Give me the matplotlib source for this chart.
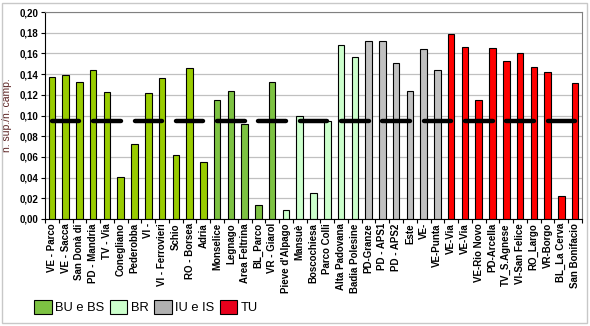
import matplotlib
matplotlib.use('Agg')
import matplotlib.pyplot as plt
from matplotlib.patches import Patch, Rectangle
import numpy as np

plt.rcParams['font.family'] = ['Liberation Sans', 'DejaVu Sans']

stazioni = ['VE - Parco', 'VE - Sacca', 'San Donà di', 'PD - Mandria', 'TV - Via',
            'Conegliano', 'Pederobba', 'VI -', 'VI - Ferrovieri', 'Schio',
            'RO - Borsea', 'Adria', 'Monselice', 'Legnago', 'Area Feltrina',
            'BL_Parco', 'VR - Giarol', "Pieve d'Alpago", 'Mansuè', 'Boscochiesa',
            'Parco Colli', 'Alta Padovana', 'Badia Polesine', 'PD-Granze', 'PD - APS1',
            'PD - APS2', 'Este', 'VE-', 'VE-Punta', 'VE-Via',
            'VE-Via', 'VE-Rio Novo', 'PD-Arcella', 'TV_S.Agnese', 'VI-San Felice',
            'RO_Largo', 'VR-Borgo', 'BL_La Cerva', 'San Bonifacio']
valori = [0.137, 0.139, 0.132, 0.144, 0.123, 0.041, 0.072, 0.122, 0.136, 0.062,
          0.146, 0.055, 0.115, 0.124, 0.092, 0.014, 0.132, 0.009, 0.100, 0.025,
          0.095, 0.168, 0.157, 0.172, 0.172, 0.151, 0.124, 0.164, 0.144, 0.179,
          0.166, 0.115, 0.165, 0.153, 0.160, 0.147, 0.142, 0.022, 0.131]
tipo = ['BU_g'] * 12 + ['BU'] * 5 + ['BR'] * 6 + ['IU'] * 6 + ['TU'] * 10
soglia = 0.095

colori = {'BU_g': '#99CC00', 'BU': '#7DC242', 'BR': '#CCFFCC', 'IU': '#C0C0C0', 'TU': '#FF0000'}
legenda = [('BU e BS', '#7DC242'), ('BR', '#CCFFCC'), ('IU e IS', '#B0B0B0'), ('TU', '#E8001C')]

fig = plt.figure(figsize=(5.9, 3.26), dpi=100)
ax = fig.add_axes([45/590, 1 - 219/326, (582-45)/590, (219-12)/326])

x = np.arange(len(stazioni))
ax.bar(x, valori, width=0.47, color=[colori[t] for t in tipo], edgecolor='black', linewidth=0.8, zorder=2)

# linea di riferimento, a gruppi di tre stazioni
for i in range(0, len(stazioni), 3):
    ax.plot(x[i:i+3], [soglia] * len(x[i:i+3]), color='black', linewidth=3.2,
            solid_capstyle='round', zorder=3)

ax.set_xlim(-0.5, len(stazioni) - 0.5)
ax.set_ylim(0, 0.20)
ax.set_yticks(np.arange(0, 0.201, 0.02))
ax.set_yticklabels([('%.2f' % v).replace('.', ',') for v in np.arange(0, 0.201, 0.02)],
                   fontsize=7, fontweight='bold')
ax.yaxis.grid(True, color='#C0C0C0', linewidth=0.9, zorder=0)
ax.set_axisbelow(True)

ax.set_xticks(x)
ax.set_xticklabels(stazioni, rotation=90, fontsize=7, fontweight='bold')
ax.set_xticks(np.arange(-0.5, len(stazioni), 1), minor=True)
ax.tick_params(axis='x', which='major', length=0, pad=3)
ax.tick_params(axis='x', which='minor', length=3, direction='out', width=0.8)
ax.tick_params(axis='y', length=3, direction='out', width=0.8, pad=2)

ax.set_ylabel('n. sup./n. camp.', fontsize=7.5, color='#5A2020', labelpad=5)

for s in ['top', 'right']:
    ax.spines[s].set_color('#808080')
for s in ['left', 'bottom']:
    ax.spines[s].set_color('black')

handles = [Patch(facecolor=c, edgecolor='black', linewidth=0.8, label=l) for l, c in legenda]
fig.legend(handles=handles, loc='center left', bbox_to_anchor=(29/590, 1 - 307/326), ncol=4,
           frameon=False, fontsize=9.3, handlelength=1.35, handleheight=1.3,
           handletextpad=0.25, columnspacing=0.45, borderaxespad=0)

fig.patches.append(Rectangle((2/590, 3/326), 585/590, 320/326, transform=fig.transFigure,
                             fill=False, edgecolor='#C8C8C8', linewidth=1))

fig.savefig('out.png', dpi=100)
